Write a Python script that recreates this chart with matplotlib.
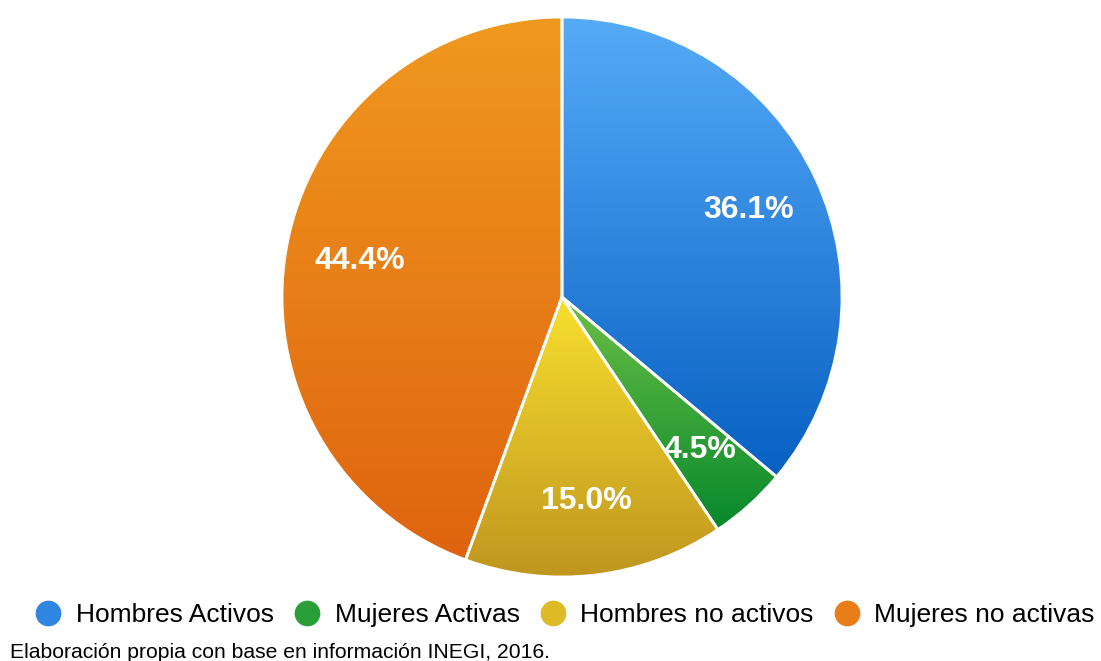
import numpy as np
import matplotlib.pyplot as plt
from matplotlib.colors import LinearSegmentedColormap
from matplotlib.lines import Line2D

plt.rcParams['font.family'] = ['Liberation Sans', 'DejaVu Sans']

# Population shares (%)
labels = ['Hombres Activos', 'Mujeres Activas', 'Hombres no activos', 'Mujeres no activas']
values = [36.1, 4.5, 15.0, 44.4]
top_colors = ['#56abf8', '#6cbf45', '#f8df2e', '#f0991f']
bottom_colors = ['#075fc2', '#06882c', '#bf951f', '#df630f']
caption = 'Elaboración propia con base en información INEGI, 2016.'

W, H = 1101, 661
fig = plt.figure(figsize=(W / 100, H / 100), dpi=100)

# pie placed by pixel center/radius
cx, cy, R = 562, 297, 280
ax = fig.add_axes([(cx - R) / W, (H - cy - R) / H, 2 * R / W, 2 * R / H])

wedges, texts = ax.pie(values, startangle=90, counterclock=False,
                       labels=[f'{v:.1f}%' for v in values], labeldistance=0.735,
                       wedgeprops=dict(edgecolor='white', linewidth=2))
for t in texts:
    t.set_color('white')
    t.set_fontsize(23)
    t.set_fontweight('bold')
    t.set_ha('center')
    t.set_va('center')

# vertical gradient inside each wedge
grad = np.linspace(0, 1, 256).reshape(-1, 1)
for w, c1, c2 in zip(wedges, top_colors, bottom_colors):
    w.set_facecolor('none')
    verts = w.get_path().vertices
    ext = w.get_patch_transform().transform(verts)
    y0, y1 = ext[:, 1].min(), ext[:, 1].max()
    cmap = LinearSegmentedColormap.from_list('g', [c2, c1])
    im = ax.imshow(grad, cmap=cmap, extent=[-1.1, 1.1, y0, y1], origin='lower',
                   aspect='auto', zorder=w.get_zorder() - 0.1)
    im.set_clip_path(w)
ax.set_xlim(-1.0, 1.0)
ax.set_ylim(-1.0, 1.0)
ax.set_aspect('equal')
ax.axis('off')

mid_colors = ['#2f86e0', '#2a9f38', '#dcbb27', '#e87e18']
handles = [Line2D([], [], marker='o', linestyle='none', markersize=17.5,
                  markerfacecolor=c, markeredgecolor=c) for c in mid_colors]
fig.legend(handles, labels, loc='center', ncol=4, frameon=False,
           bbox_to_anchor=(0.513, 1 - 615 / H), fontsize=19,
           handletextpad=0.55, columnspacing=0.75, handlelength=1.0)

fig.text(10 / W, 1 - 653 / H, caption, fontsize=15.2, va='center', ha='left')

fig.savefig('out.png', dpi=100)
